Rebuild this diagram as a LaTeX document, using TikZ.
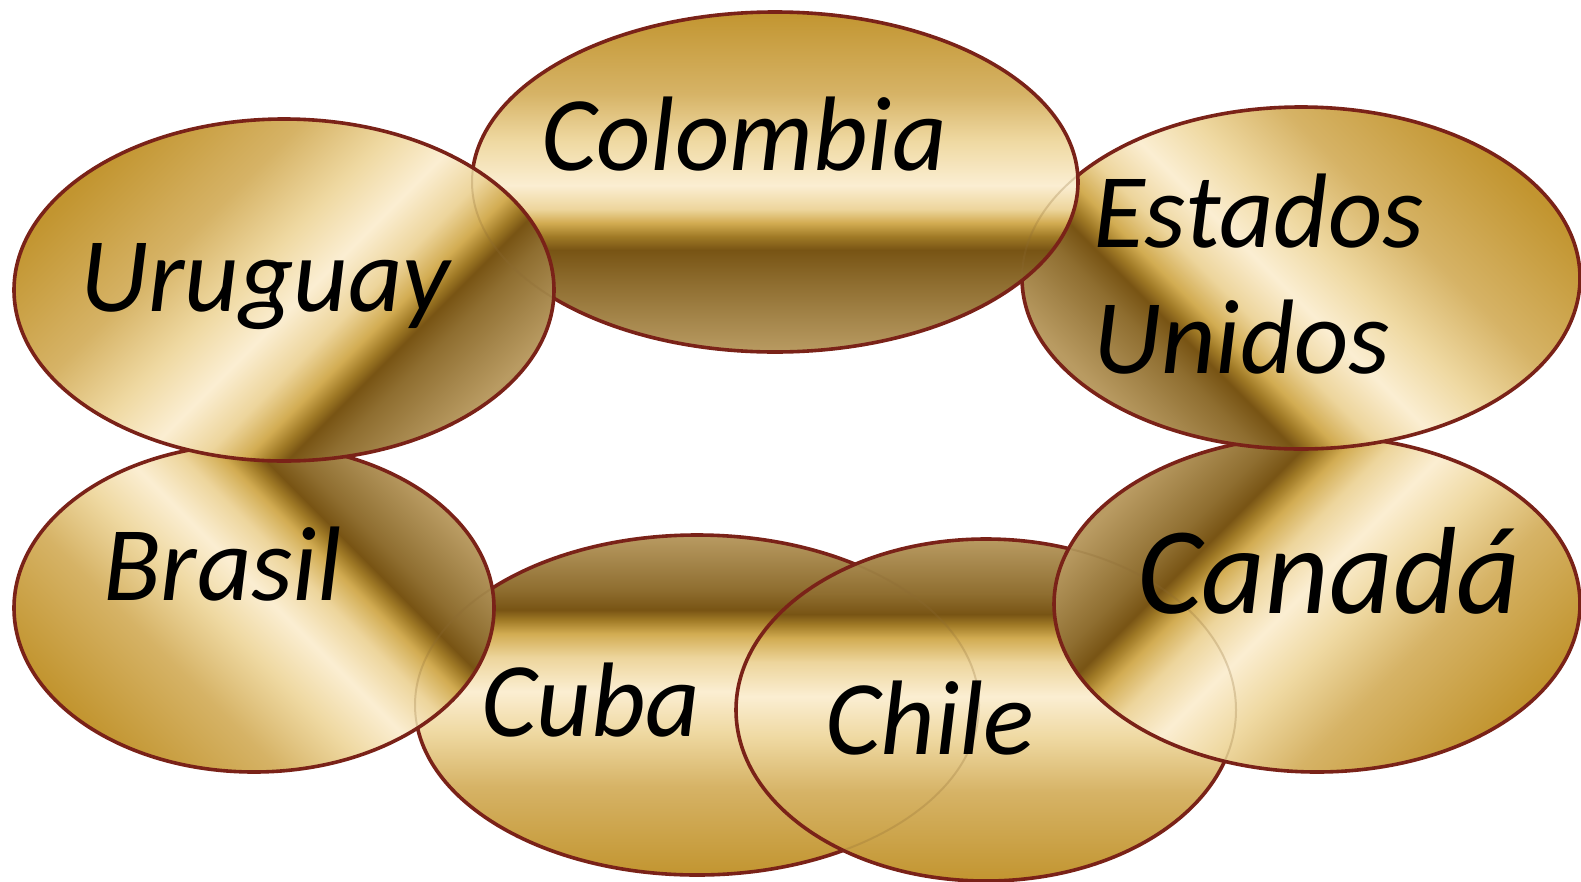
\documentclass[tikz,border=0pt]{standalone}
\usepackage{fontspec}
\setmainfont{Carlito}
\usetikzlibrary{shapes.geometric}
\definecolor{g0}{HTML}{B99B62}
\definecolor{g1}{HTML}{A4854A}
\definecolor{g2}{HTML}{8F6E30}
\definecolor{gD}{HTML}{785414}
\definecolor{g3}{HTML}{A07A26}
\definecolor{g4}{HTML}{D2AC52}
\definecolor{g5}{HTML}{EDD59C}
\definecolor{gC}{HTML}{FBEED2}
\definecolor{g6}{HTML}{EFD9A2}
\definecolor{g7}{HTML}{D6B366}
\definecolor{gO}{HTML}{C29530}
\definecolor{rim}{HTML}{7A2218}
\definecolor{ghostc}{HTML}{8C6A34}
\pgfdeclareverticalshading{goldA}{100bp}{color(0bp)=(g0); color(25bp)=(g0); color(29bp)=(g1); color(33bp)=(g2); color(36bp)=(gD); color(37.5bp)=(g3); color(39.5bp)=(g4); color(43bp)=(g5); color(48bp)=(gC); color(54bp)=(g6); color(62bp)=(g7); color(75bp)=(gO); color(100bp)=(gO)}
\pgfdeclareverticalshading{goldB}{100bp}{color(0bp)=(g0); color(25bp)=(g0); color(30bp)=(g1); color(35bp)=(g2); color(40bp)=(gD); color(42bp)=(g3); color(44bp)=(g4); color(46bp)=(g5); color(49.5bp)=(gC); color(56bp)=(g6); color(63bp)=(g7); color(75bp)=(gO); color(100bp)=(gO)}
\tikzset{
  coin/.style={ellipse, draw=rim, line width=3.6pt, inner sep=0pt, shading=goldA},
  ghost/.style={draw=ghostc, draw opacity=0.25, line width=2pt},
  lbl/.style={anchor=base west, inner sep=0pt, font=\itshape\fontsize{106}{126}\selectfont, text=black}
}
\begin{document}
\begin{tikzpicture}[x=1pt,y=-1pt]
\useasboundingbox[fill=white] (0,0) rectangle (1581,881);
% bottom to top
\node[coin, minimum width=564pt, minimum height=340pt, shading angle=180] (cuba) at (697,705) {};
\node[coin, minimum width=480pt, minimum height=328pt, shading angle=135] (brasil) at (254,608) {};
\node[coin, minimum width=500pt, minimum height=342pt, shading angle=180] (chile) at (986,710) {};
\node[coin, minimum width=526pt, minimum height=336pt, shading angle=225] (canada) at (1317,604) {};
\node[coin, minimum width=558pt, minimum height=342pt, shading angle=-45] (eu) at (1301,278) {};
\node[coin, minimum width=606pt, minimum height=340pt, shading=goldB, shading angle=0] (colombia) at (775,182) {};
\node[coin, minimum width=540pt, minimum height=342pt, shading angle=45] (uruguay) at (284,290) {};
% faint edges of the lower shapes seen through the upper ones
\begin{scope}
  \clip (986,710) ellipse [x radius=248, y radius=169];
  \draw[ghost] (697,705) ellipse [x radius=282, y radius=170];
\end{scope}
\begin{scope}
  \clip (254,608) ellipse [x radius=238, y radius=162];
  \draw[ghost] (697,705) ellipse [x radius=282, y radius=170];
\end{scope}
\begin{scope}
  \clip (1317,604) ellipse [x radius=261, y radius=166];
  \draw[ghost] (986,710) ellipse [x radius=250, y radius=171];
\end{scope}
\begin{scope}
  \clip (775,182) ellipse [x radius=301, y radius=168];
  \draw[ghost] (1301,278) ellipse [x radius=279, y radius=171];
\end{scope}
\begin{scope}
  \clip (284,290) ellipse [x radius=268, y radius=169];
  \draw[ghost] (775,182) ellipse [x radius=303, y radius=170];
\end{scope}
% labels
\node[lbl] (tcolombia) at (541,170) {Colombia};
\node[lbl] (turuguay) at (80,311) {Uruguay};
\node[lbl, align=left] (teu) at (1093,373) {Estados\\Unidos};
\node[lbl] (tbrasil) at (103,600) {Brasil};
\node[lbl, font=\itshape\fontsize{124}{126}\selectfont] (tcanada) at (1137,613) {Canadá};
\node[lbl] (tcuba) at (481,736) {Cuba};
\node[lbl] (tchile) at (825,754) {Chile};
\end{tikzpicture}
\end{document}
